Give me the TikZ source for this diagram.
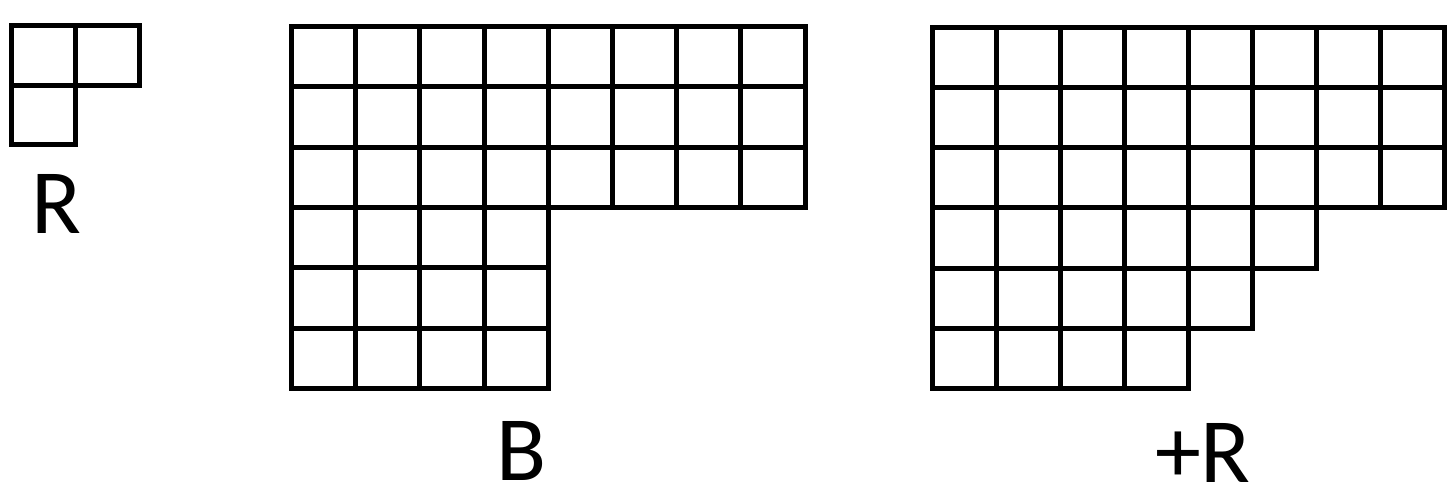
\documentclass[tikz,border=0pt]{standalone}
\usepackage{fontspec}
\setmainfont{Carlito}
\usepackage{tikz}

\begin{document}
\begin{tikzpicture}[x=64.2pt, y=-60.3pt,
        box/.style={draw=black, line width=5pt, line join=miter},
        lab/.style={anchor=base, inner sep=0pt, text depth=0pt, font=\fontsize{92}{96}\selectfont}]
        \useasboundingbox (0pt,0pt) rectangle (1456pt,-501pt);

        % the small piece R
        \begin{scope}[shift={(11.7pt,-25.7pt)}, x=63.9pt, y=-59.4pt]
        \foreach \r/\n in {0/2,1/1}
            \foreach \c in {1,...,\n}
                \draw[box] (\c-1,\r) rectangle +(1,1);
        \end{scope}

        % the shape B
        \begin{scope}[shift={(291.5pt,-26.5pt)}]
        \foreach \r/\n in {0/8,1/8,2/8,3/4,4/4,5/4}
            \foreach \c in {1,...,\n}
                \draw[box] (\c-1,\r) rectangle +(1,1);
        \end{scope}

        % B with R added
        \begin{scope}[shift={(932pt,-27pt)}, x=64.1pt]
        \foreach \r/\n in {0/8,1/8,2/8,3/6,4/5,5/4}
            \foreach \c in {1,...,\n}
                \draw[box] (\c-1,\r) rectangle +(1,1);
        \end{scope}

        \node[lab] (labr) at (56pt,-233pt) {R};
        \node[lab] (labb) at (522pt,-480pt) {B};
        \node[lab] (labbr) at (1203pt,-482pt) {+R};
\end{tikzpicture}
\end{document}
